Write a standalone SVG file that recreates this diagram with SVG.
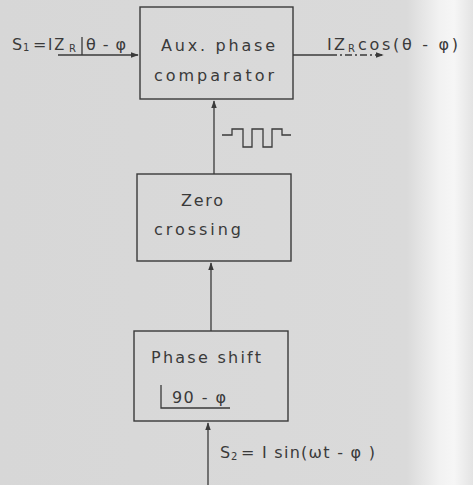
<svg xmlns="http://www.w3.org/2000/svg" width="473" height="485" viewBox="0 0 473 485">
  <defs>
    <linearGradient id="paper" x1="0" y1="0" x2="1" y2="0">
      <stop offset="0" stop-color="#d7d7d7"/>
      <stop offset="0.86" stop-color="#dadada"/>
      <stop offset="0.93" stop-color="#f2f2f2"/>
      <stop offset="0.96" stop-color="#f6f6f6"/>
      <stop offset="1" stop-color="#e4e4e4"/>
    </linearGradient>
    <marker id="arr" viewBox="0 0 10 10" refX="9" refY="5" markerWidth="6" markerHeight="6" orient="auto">
      <path d="M0,1.5 L10,5 L0,8.5 z" fill="#3a3a3a"/>
    </marker>
    <style>
      .box { fill: none; stroke: #3a3a3a; stroke-width: 1.4; }
      .wire { fill: none; stroke: #3a3a3a; stroke-width: 1.3; }
      .lbl { font-family: "DejaVu Sans", "Liberation Sans", sans-serif; font-size: 16px; fill: #3a3a3a; letter-spacing: 2px; }
      .sub { font-family: "DejaVu Sans", "Liberation Sans", sans-serif; font-size: 10px; fill: #3a3a3a; }
    </style>
  </defs>

  <rect x="0" y="0" width="473" height="485" fill="url(#paper)"/>

  <!-- connectors -->
  <g id="connectors">
    <line class="wire" x1="58" y1="55" x2="138" y2="55" marker-end="url(#arr)"/>
    <line class="wire" x1="293" y1="55" x2="330" y2="55"/>
    <line class="wire" x1="330" y1="55" x2="383" y2="55" stroke-dasharray="7 3 2 3" marker-end="url(#arr)"/>
    <line class="wire" x1="214" y1="174" x2="214" y2="101" marker-end="url(#arr)"/>
    <line class="wire" x1="211" y1="331" x2="211" y2="263" marker-end="url(#arr)"/>
    <line class="wire" x1="208" y1="485" x2="208" y2="423" marker-end="url(#arr)"/>
    <!-- square-wave symbol beside the comparator input -->
    <path class="wire" d="M222,135 H232 V129 H243 V147 H252 V129 H263 V147 H272 V129 H282 V135 H291"/>
  </g>

  <!-- input / output labels -->
  <g id="label-s1">
    <text class="lbl" x="12" y="50">S</text>
    <text class="sub" x="23" y="51">1</text>
    <text class="lbl" x="33" y="50">=</text>
    <text class="lbl" x="48" y="50" textLength="18" lengthAdjust="spacingAndGlyphs">IZ</text>
    <text class="sub" x="69" y="52">R</text>
    <line class="wire" x1="82" y1="37" x2="82" y2="55"/>
    <text class="lbl" x="86" y="50" textLength="42" lengthAdjust="spacing">θ - φ</text>
  </g>
  <g id="label-out">
    <text class="lbl" x="327" y="50" textLength="20" lengthAdjust="spacing">IZ</text>
    <text class="sub" x="348" y="52">R</text>
    <text class="lbl" x="358" y="50" textLength="102" lengthAdjust="spacing">cos(θ - φ)</text>
  </g>

  <g id="node-comparator">
    <rect class="box" x="140" y="7" width="153" height="92"/>
    <text class="lbl" x="161" y="51" textLength="116" lengthAdjust="spacing">Aux. phase</text>
    <text class="lbl" x="154" y="81" textLength="122" lengthAdjust="spacing">comparator</text>
  </g>

  <g id="node-zero-crossing">
    <rect class="box" x="137" y="174" width="154" height="87"/>
    <text class="lbl" x="181" y="206" textLength="44" lengthAdjust="spacing">Zero</text>
    <text class="lbl" x="154" y="235" textLength="89" lengthAdjust="spacing">crossing</text>
  </g>

  <g id="node-phase-shift">
    <rect class="box" x="134" y="331" width="154" height="90"/>
    <text class="lbl" x="151" y="363" textLength="112" lengthAdjust="spacing">Phase shift</text>
    <path class="wire" d="M161,385 V408 H230"/>
    <text class="lbl" x="172" y="403" textLength="56" lengthAdjust="spacing">90 - φ</text>
  </g>

  <g id="label-s2">
    <text class="lbl" x="220" y="458">S</text>
    <text class="sub" x="231" y="460">2</text>
    <text class="lbl" x="241" y="458" textLength="136" lengthAdjust="spacing">= I sin(ωt - φ )</text>
  </g>
</svg>
